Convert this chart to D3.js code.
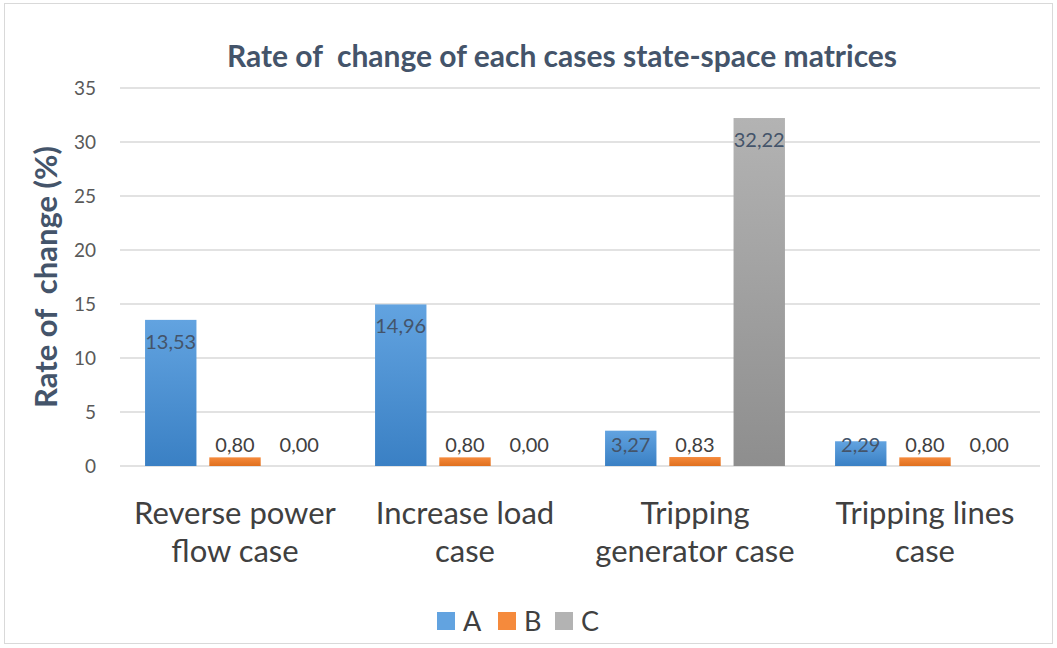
<!DOCTYPE html>
<html>
<head>
<meta charset="utf-8">
<script src="https://cdn.jsdelivr.net/npm/d3@7"></script>
<style>
  html, body { margin: 0; padding: 0; background: #fff; }
  svg { display: block; }
  text { white-space: pre; }
</style>
</head>
<body>
<svg id="chart" width="1057" height="648"></svg>
<script>
// Chart data
const categories = [["Reverse power", "flow case"], ["Increase load", "case"], ["Tripping", "generator case"], ["Tripping lines", "case"]];
const seriesNames = ["A", "B", "C"];
const valuesA = [13.53, 14.96, 3.27, 2.29];
const valuesB = [0.80, 0.80, 0.83, 0.80];
const valuesC = [0.00, 0.00, 32.22, 0.00];
const yTicks = [0, 5, 10, 15, 20, 25, 30, 35];

const seriesValues = [valuesA, valuesB, valuesC];
const colors = {
  A: ["#62a3e0", "#3a80c4"],
  B: ["#f58a3c", "#e0701f"],
  C: ["#b3b3b3", "#8e8e8e"]
};

const svg = d3.select("#chart");
const W = 1057, H = 648;
const margin = { left: 120, right: 17, top: 88, bottom: 182 };
const plotW = W - margin.left - margin.right;
const plotH = H - margin.top - margin.bottom;
const font = "Lato, 'Open Sans', sans-serif";

// Outer frame
svg.append("rect")
  .attr("x", 4.5).attr("y", 3.5).attr("width", W - 9).attr("height", H - 8)
  .attr("fill", "#fff").attr("stroke", "#d9d9d9").attr("stroke-width", 1);

// Gradients per series
const defs = svg.append("defs");
seriesNames.forEach(s => {
  const g = defs.append("linearGradient").attr("id", "grad" + s)
    .attr("x1", 0).attr("y1", 0).attr("x2", 0).attr("y2", 1);
  g.append("stop").attr("offset", "0%").attr("stop-color", colors[s][0]);
  g.append("stop").attr("offset", "100%").attr("stop-color", colors[s][1]);
});

const x0 = d3.scaleBand().domain(d3.range(categories.length))
  .range([margin.left, margin.left + plotW]).paddingInner(0).paddingOuter(0);
const x1 = d3.scaleBand().domain(seriesNames)
  .range([0, x0.bandwidth()]).paddingInner(0.2).paddingOuter(0.39);
const y = d3.scaleLinear().domain([0, 35]).range([margin.top + plotH, margin.top]);

// Gridlines
svg.append("g").selectAll("line").data(yTicks).join("line")
  .attr("x1", margin.left).attr("x2", margin.left + plotW)
  .attr("y1", d => y(d)).attr("y2", d => y(d))
  .attr("stroke", "#d9d9d9").attr("stroke-width", 1.5);

// Y axis tick labels
const yAxis = d3.axisLeft(y).tickValues(yTicks).tickSize(0).tickPadding(0);
const gy = svg.append("g").attr("transform", `translate(${margin.left - 24},0)`).call(yAxis);
gy.select(".domain").remove();
gy.selectAll("text")
  .attr("font-family", font)
  .attr("font-size", 19).attr("fill", "#595959").attr("dy", "0.35em");

// Bars
const groups = svg.append("g").selectAll("g").data(categories).join("g")
  .attr("transform", (d, i) => `translate(${x0(i)},0)`);

groups.each(function (cat, ci) {
  const g = d3.select(this);
  seriesNames.forEach((s, si) => {
    const v = seriesValues[si][ci];
    const top = y(v);
    g.append("rect")
      .attr("x", x1(s)).attr("width", x1.bandwidth())
      .attr("y", top).attr("height", y(0) - top)
      .attr("fill", `url(#grad${s})`);
    const ly = Math.min(top + 22, y(0) - 21);
    g.append("text")
      .attr("x", x1(s) + x1.bandwidth() / 2).attr("y", ly)
      .attr("dy", "0.35em").attr("text-anchor", "middle")
      .attr("font-family", font)
      .attr("font-size", 20)
      .attr("fill", s === "A" || s === "C" && v > 5 ? "#44546a" : "#404040")
      .text(v.toFixed(2).replace(".", ","));
  });
  // Category label (two lines)
  const t = g.append("text")
    .attr("x", x0.bandwidth() / 2).attr("y", 524)
    .attr("text-anchor", "middle")
    .attr("font-family", font)
    .attr("font-size", 31).attr("fill", "#404040");
  cat.forEach((line, li) => {
    t.append("tspan").attr("x", x0.bandwidth() / 2).attr("dy", li === 0 ? 0 : 38).text(line);
  });
});

// Title
svg.append("text")
  .attr("x", 562).attr("y", 67).attr("text-anchor", "middle")
  .attr("font-family", font)
  .attr("font-weight", "bold").attr("font-size", 30).attr("fill", "#44546a")
  .text("Rate of  change of each cases state-space matrices");

// Y axis title
svg.append("text")
  .attr("transform", `translate(57,${y(17.5)}) rotate(-90)`)
  .attr("text-anchor", "middle")
  .attr("font-family", font)
  .attr("font-weight", "bold").attr("font-size", 31).attr("fill", "#44546a")
  .text("Rate of  change (%)");

// Legend
const legendX = [437, 498, 555];
const legend = svg.append("g").selectAll("g").data(seriesNames).join("g")
  .attr("transform", (d, i) => `translate(${legendX[i]},612)`);
legend.append("rect").attr("width", 18).attr("height", 18)
  .attr("fill", d => colors[d][0]);
legend.append("text").attr("x", 26).attr("y", 9).attr("dy", "0.36em")
  .attr("font-family", font)
  .attr("font-size", 27).attr("fill", "#404040")
  .text(d => d);
</script>
</body>
</html>
